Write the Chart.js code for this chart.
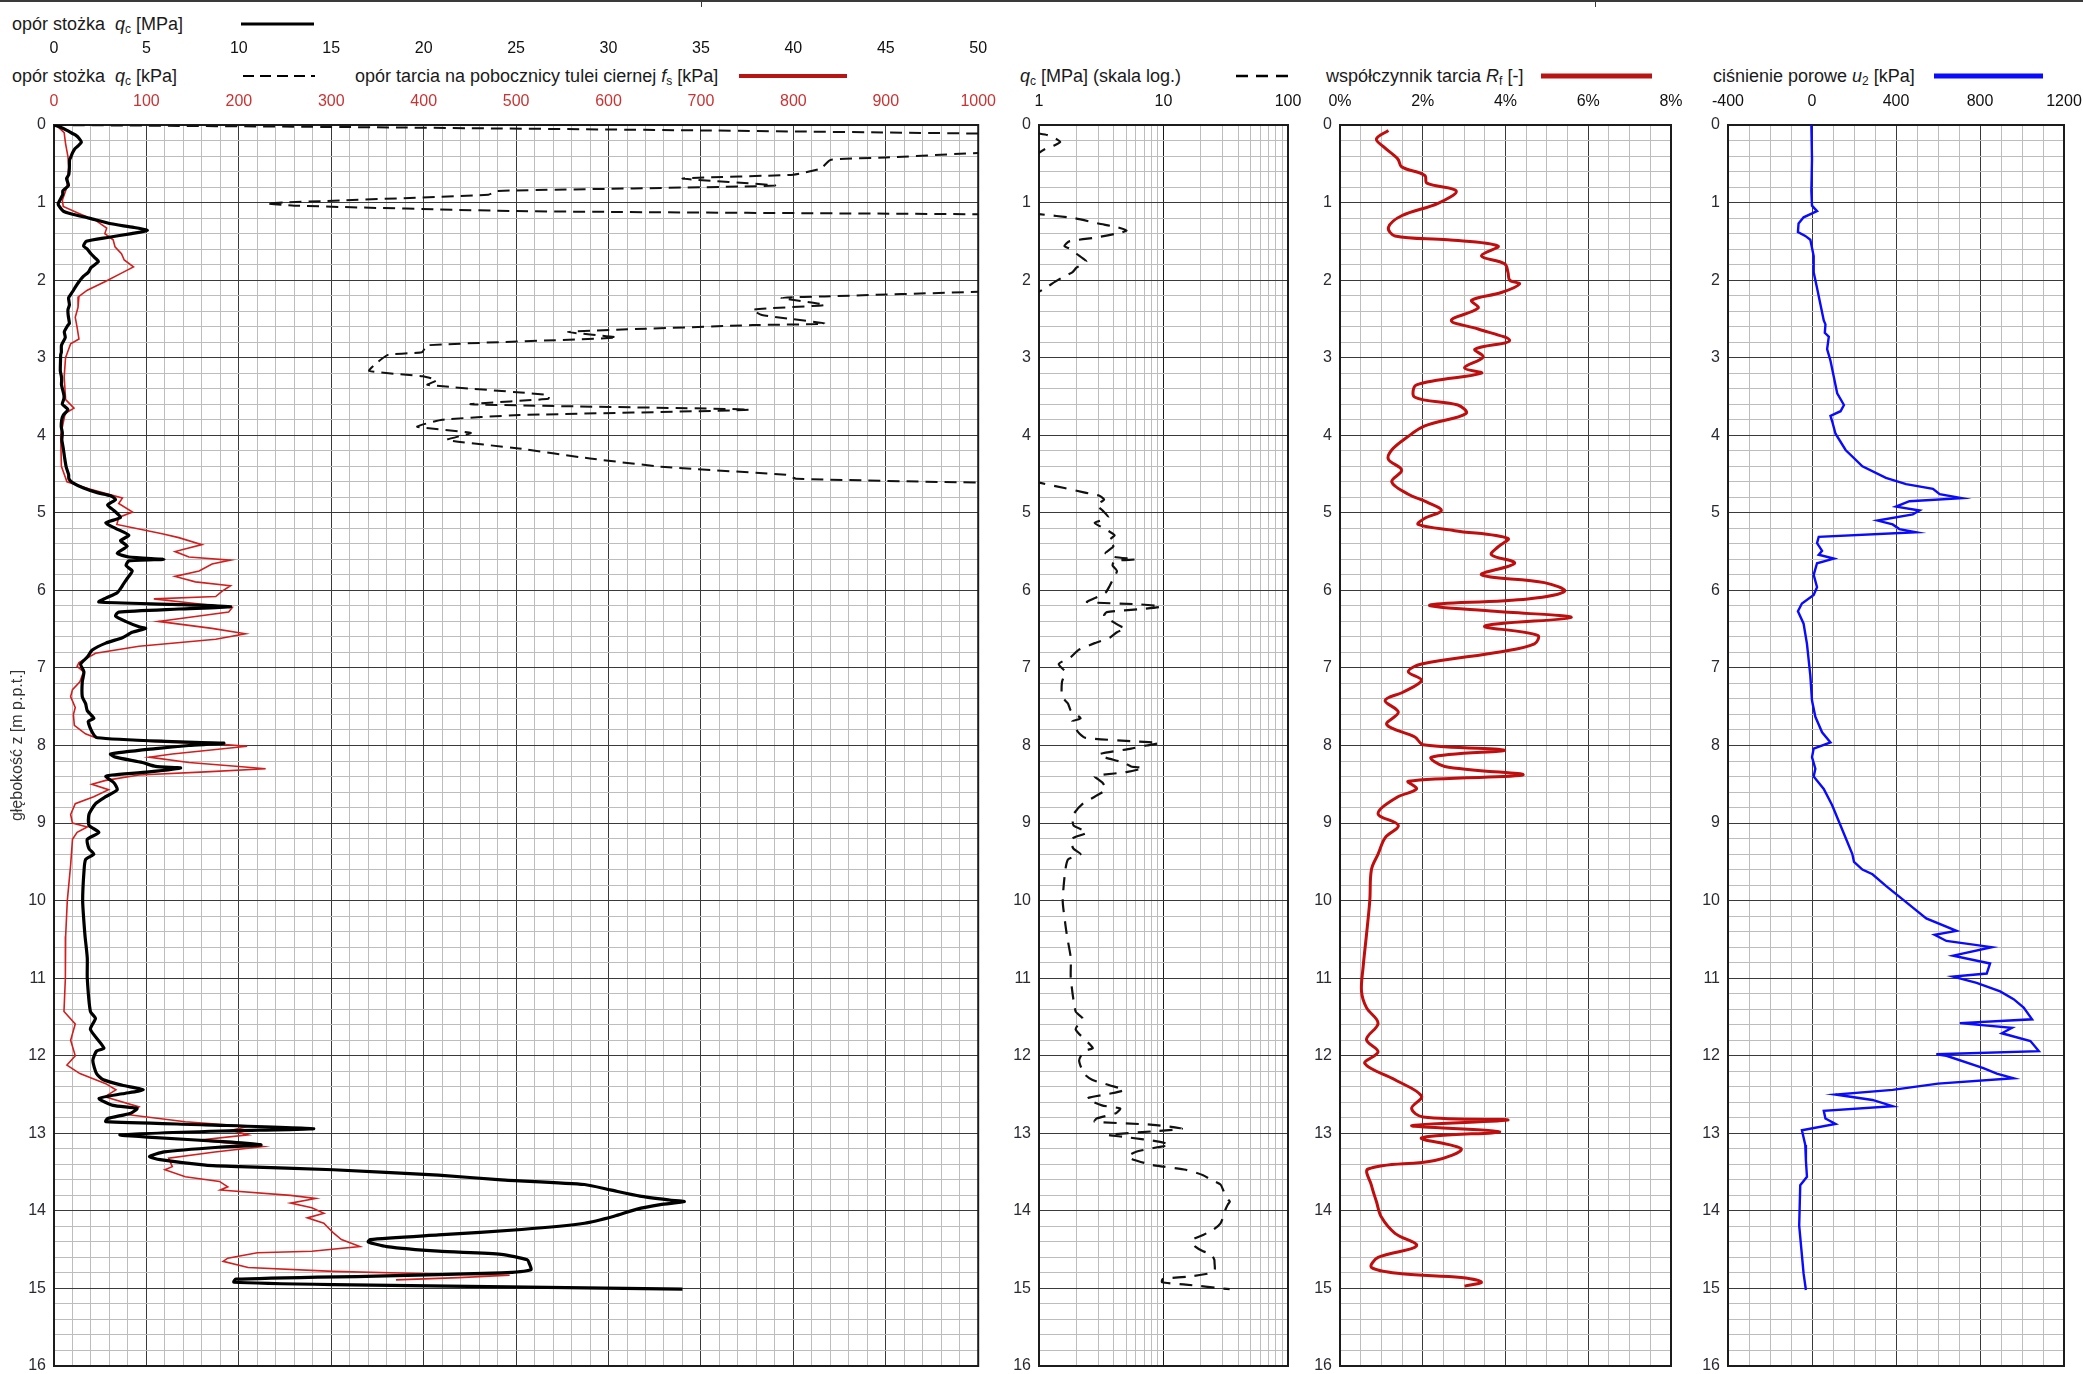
<!DOCTYPE html>
<html lang="pl">
<head>
<meta charset="utf-8">
<title>Sondowanie statyczne CPTU</title>
<script src="https://cdn.jsdelivr.net/npm/chart.js@4.4.1/dist/chart.umd.min.js"></script>
<style>
  html, body { margin: 0; padding: 0; background: #fff; }
  body { position: relative; width: 2083px; height: 1374px; overflow: hidden;
         font-family: 'Liberation Sans', Arial, sans-serif; color: #1a1a1a; }
  canvas { position: absolute; top: 0; }
  .leg { position: absolute; font-size: 18px; line-height: 20px; white-space: nowrap; }
  .leg sub { font-size: 12px; vertical-align: -3px; line-height: 0; }
  .smp { position: absolute; overflow: visible; }
  .rule { position: absolute; background: #3a3a3a; }
</style>
</head>
<body>
<div class="rule" style="left:0;top:0;width:2083px;height:2px"></div>
<div class="rule" style="left:701px;top:0;width:1px;height:7px"></div>
<div class="rule" style="left:1595px;top:0;width:1px;height:7px"></div>

<!-- legend rows above the panels -->
<div class="leg" style="left:12px;top:14px">opór stożka&nbsp; <i>q</i><sub>c</sub> [MPa]</div>
<svg class="smp" style="left:241px;top:18px" width="76" height="12"><line x1="0" y1="6" x2="73" y2="6" stroke="#000" stroke-width="3"/></svg>

<div class="leg" style="left:12px;top:66px">opór stożka&nbsp; <i>q</i><sub>c</sub> [kPa]</div>
<svg class="smp" style="left:243px;top:70px" width="76" height="12"><line x1="0" y1="6" x2="72" y2="6" stroke="#000" stroke-width="2" stroke-dasharray="11 6"/></svg>
<div class="leg" style="left:355px;top:66px">opór tarcia na pobocznicy tulei ciernej <i>f</i><sub>s</sub> [kPa]</div>
<svg class="smp" style="left:739px;top:70px" width="110" height="12"><line x1="0" y1="6" x2="108" y2="6" stroke="#b81414" stroke-width="4"/></svg>

<div class="leg" style="left:1020px;top:66px"><i>q</i><sub>c</sub> [MPa] (skala log.)</div>
<svg class="smp" style="left:1236px;top:70px" width="62" height="12"><line x1="0" y1="6" x2="54" y2="6" stroke="#000" stroke-width="2.5" stroke-dasharray="12 8"/></svg>

<div class="leg" style="left:1326px;top:66px">współczynnik tarcia <i>R</i><sub>f</sub> [-]</div>
<svg class="smp" style="left:1541px;top:70px" width="112" height="12"><line x1="0" y1="6" x2="111" y2="6" stroke="#b81414" stroke-width="5"/></svg>

<div class="leg" style="left:1713px;top:66px">ciśnienie porowe <i>u</i><sub>2</sub> [kPa]</div>
<svg class="smp" style="left:1934px;top:70px" width="112" height="12"><line x1="0" y1="6" x2="109" y2="6" stroke="#0a0aff" stroke-width="5"/></svg>

<canvas id="cQc" width="1010" height="1390" style="left:0"></canvas>
<canvas id="cLog" width="320" height="1390" style="left:1000px"></canvas>
<canvas id="cRf" width="400" height="1390" style="left:1300px"></canvas>
<canvas id="cU2" width="410" height="1390" style="left:1690px"></canvas>

<script>
// ---- cone resistance q_c [MPa] ----
const qcDepth = [0.00,0.03,0.07,0.11,0.13,0.17,0.22,0.27,0.31,0.36,0.42,0.45,0.56,0.64,0.69,0.78,0.85,0.90,1.01,1.04,
  1.11,1.15,1.20,1.27,1.32,1.36,1.40,1.45,1.50,1.56,1.60,1.66,1.72,1.76,1.84,1.90,1.95,2.02,2.08,2.15,
  2.21,2.23,2.32,2.38,2.45,2.56,2.58,2.64,2.67,2.74,2.84,2.93,2.96,3.05,3.17,3.24,3.29,3.35,3.48,3.53,
  3.60,3.67,3.74,3.80,3.89,3.97,4.06,4.17,4.30,4.41,4.51,4.56,4.61,4.68,4.74,4.78,4.83,4.90,4.97,5.06,
  5.13,5.20,5.29,5.36,5.43,5.52,5.57,5.60,5.62,5.68,5.75,5.85,5.94,6.03,6.10,6.15,6.18,6.21,6.24,6.28,
  6.33,6.40,6.47,6.49,6.54,6.61,6.68,6.77,6.86,6.95,7.05,7.18,7.37,7.46,7.55,7.65,7.69,7.83,7.90,7.95,
  7.97,8.00,8.04,8.11,8.15,8.22,8.27,8.29,8.34,8.38,8.40,8.48,8.57,8.66,8.75,8.89,9.03,9.12,9.21,9.33,
  9.40,9.47,9.63,10.00,10.28,10.46,10.74,11.00,11.43,11.52,11.66,11.90,11.94,12.06,12.23,12.31,12.38,12.44,12.49,12.55,
  12.64,12.68,12.74,12.81,12.85,12.89,12.94,12.97,13.02,13.05,13.11,13.15,13.18,13.24,13.30,13.34,13.41,13.43,13.47,13.54,
  13.60,13.66,13.73,13.81,13.86,13.88,13.92,13.98,14.07,14.16,14.24,14.31,14.37,14.40,14.46,14.52,14.56,14.63,14.67,14.76,
  14.80,14.84,14.88,14.92,14.95,15.01];
const qcMPa = [0.00,0.35,0.70,1.00,1.17,1.35,1.48,1.30,1.12,1.00,0.90,0.84,0.83,0.80,0.68,0.78,0.48,0.47,0.23,0.26,
  0.50,1.00,1.90,3.00,4.30,5.05,4.20,2.90,1.75,1.60,1.80,2.00,2.25,2.40,2.00,1.85,1.60,1.35,1.18,1.00,
  0.834,0.787,0.834,0.756,0.766,0.834,0.756,0.609,0.556,0.609,0.404,0.398,0.362,0.351,0.341,0.399,0.414,0.404,0.535,0.535,
  0.451,0.753,0.504,0.420,0.393,0.451,0.425,0.503,0.580,0.661,0.792,0.803,1.00,1.60,2.34,3.06,3.33,2.90,3.24,3.60,
  2.80,3.33,4.05,3.60,3.96,3.42,4.05,5.95,4.05,3.90,4.23,3.95,3.70,3.42,2.80,2.43,6.40,9.55,6.76,3.50,
  3.33,3.87,4.60,4.96,4.23,3.70,2.80,2.07,1.80,1.44,1.62,1.53,1.53,1.71,1.80,2.16,1.85,2.07,2.34,6.40,
  9.19,7.30,5.50,3.06,3.33,4.78,5.50,6.85,5.14,3.15,2.80,3.24,3.42,2.80,2.25,1.89,1.89,2.43,1.80,1.89,
  2.16,1.71,1.62,1.55,1.62,1.68,1.80,1.80,1.97,2.24,1.97,2.70,2.30,2.10,2.30,2.67,3.69,4.83,3.70,2.44,
  3.20,4.49,4.15,2.90,2.80,8.20,14.05,9.00,3.58,5.06,9.39,11.20,8.90,5.97,5.17,5.74,8.20,10.07,15.10,20.80,
  24.20,28.70,30.10,31.70,33.30,34.10,32.80,31.50,30.30,28.70,25.30,20.80,17.10,17.00,18.00,20.80,24.20,25.60,25.70,25.80,
  24.20,17.40,9.84,9.73,15.10,34.00];

// ---- sleeve friction f_s [kPa] ----
const fsDepth = [0.00,0.10,0.24,0.40,0.54,0.80,0.97,1.05,1.14,1.23,1.33,1.40,1.48,1.57,1.66,1.74,1.83,1.91,2.02,2.13,
  2.21,2.35,2.48,2.61,2.76,2.82,3.00,3.25,3.54,3.65,3.72,4.00,4.40,4.60,4.69,4.81,4.88,4.99,5.06,5.15,
  5.27,5.32,5.41,5.50,5.57,5.61,5.66,5.75,5.82,5.89,5.94,6.01,6.08,6.11,6.17,6.22,6.28,6.33,6.40,6.49,
  6.56,6.63,6.72,6.81,6.93,6.98,7.05,7.18,7.28,7.37,7.51,7.60,7.74,7.85,7.90,7.95,7.98,8.01,8.11,8.15,
  8.22,8.27,8.30,8.34,8.38,8.45,8.50,8.57,8.66,8.75,8.89,9.00,9.05,9.12,9.21,9.54,10.00,10.46,10.74,11.00,
  11.43,11.59,11.80,12.00,12.12,12.23,12.36,12.44,12.53,12.66,12.76,12.85,12.91,12.96,13.02,13.09,13.17,13.24,13.32,13.43,
  13.47,13.56,13.62,13.69,13.73,13.80,13.84,13.90,13.96,14.03,14.09,14.16,14.22,14.28,14.37,14.46,14.52,14.54,14.61,14.65,
  14.73,14.78,14.81,14.83,14.86,14.89];
const fsKPa = [2,11,12.5,15,16,14,9,10,27,45,57,55,64,66,73,76,86,73,55,36,
  27,26,23,25,27,18,12.5,11,12.6,21.6,12,7.2,8,14,37.5,74,70,85,70,68,
  117,135,160,131,146,191,171,157,131,153,191,182,175,108,153,193,189,157,113,171,
  207,175,92,45,27,25,32,28,20,18,23,21,22,34,45,110,178,209,128,103,
  146,200,229,164,92,56,41,59,43,23,18,20,36,25,20,18,14.4,12.6,12,12.6,
  10.8,23,18,23,14,28,56,67,55,92,81,142,210,192,210,156,226,174,124,128,
  120,142,179,188,180,256,283,256,279,292,274,292,297,302,311,331,279,220,188,183,
  210,302,406,493,438,370];

// ---- friction ratio R_f [%] ----
const rfDepth = [0.07,0.18,0.28,0.44,0.54,0.65,0.75,0.85,1.01,1.17,1.32,1.43,1.48,1.56,1.69,1.79,1.90,2.00,2.05,2.16,
  2.26,2.36,2.52,2.63,2.78,2.89,2.99,3.13,3.20,3.35,3.51,3.61,3.72,3.88,4.03,4.19,4.31,4.45,4.60,4.76,
  4.86,4.97,5.07,5.15,5.23,5.33,5.44,5.54,5.65,5.80,5.90,6.01,6.11,6.19,6.27,6.35,6.46,6.58,6.69,6.79,
  6.95,7.05,7.16,7.31,7.42,7.57,7.73,7.89,7.99,8.06,8.15,8.27,8.38,8.46,8.56,8.67,8.88,9.03,9.19,9.40,
  9.60,10.00,10.44,10.85,11.17,11.38,11.58,11.79,11.95,12.10,12.31,12.52,12.68,12.79,12.83,12.90,12.98,13.06,13.20,13.35,
  13.46,13.67,13.88,14.08,14.29,14.45,14.60,14.73,14.81,14.86,14.92,14.97];
const rfPct = [1.17,0.88,1.05,1.40,1.49,2.05,2.10,2.81,2.37,1.49,1.17,1.33,2.60,3.82,3.42,3.98,4.06,4.10,4.34,3.90,
  3.18,3.34,2.69,3.34,4.10,3.26,3.46,3.01,3.42,1.85,1.81,2.85,3.05,2.05,1.61,1.25,1.17,1.49,1.25,1.65,
  2.09,2.45,2.05,1.89,2.77,4.06,3.82,3.66,4.22,3.42,4.94,5.43,4.54,2.17,3.74,5.59,3.50,4.78,4.70,3.90,
  1.97,1.65,1.97,1.53,1.09,1.41,1.13,1.81,2.01,3.98,2.21,2.53,4.42,1.65,1.85,1.37,0.92,1.41,1.09,0.92,
  0.76,0.72,0.64,0.56,0.52,0.64,0.92,0.64,0.92,0.60,1.33,1.97,1.73,2.01,4.06,1.73,3.86,1.97,2.93,2.29,
  0.68,0.76,0.88,1.00,1.33,1.85,0.92,0.76,1.49,2.93,3.42,3.01];

// ---- pore pressure u_2 [kPa] ----
const u2Depth = [0.00,0.44,0.85,1.04,1.11,1.19,1.27,1.38,1.43,1.48,1.69,1.90,2.10,2.31,2.52,2.57,2.68,2.73,2.89,3.04,
  3.25,3.46,3.61,3.69,3.75,3.82,3.98,4.19,4.40,4.55,4.63,4.69,4.76,4.81,4.85,4.92,4.97,5.02,5.10,5.15,
  5.21,5.25,5.31,5.39,5.49,5.54,5.59,5.65,5.80,5.96,6.06,6.17,6.27,6.43,6.69,7.10,7.42,7.63,7.83,7.96,
  8.04,8.15,8.30,8.40,8.56,8.77,8.98,9.19,9.40,9.50,9.60,9.66,9.81,10.02,10.23,10.39,10.44,10.52,10.60,10.71,
  10.81,10.94,10.98,11.06,11.17,11.27,11.38,11.53,11.58,11.64,11.71,11.81,11.94,11.98,12.00,12.16,12.23,12.29,12.36,12.44,
  12.50,12.57,12.65,12.71,12.81,12.88,12.96,13.15,13.35,13.56,13.67,14.19,14.81,15.02];
const u2KPa = [-3,0,-3,0,24,-40,-64,-67,-32,-8,8,8,24,40,56,64,61,80,72,88,
  104,120,152,136,88,96,112,160,240,352,448,576,608,712,464,400,512,480,312,384,
  416,496,32,24,48,32,104,24,8,24,8,-48,-67,-40,-24,-8,0,16,48,88,
  8,0,16,8,56,96,128,160,192,200,240,288,352,448,544,688,584,640,856,672,
  848,832,672,784,896,960,1008,1048,704,952,904,1040,1080,592,640,816,880,960,600,384,
  112,288,384,56,64,112,-48,-32,-29,-24,-56,-61,-40,-29];

// ---- axis tick values ----
const depthLabels = [0,1,2,3,4,5,6,7,8,9,10,11,12,13,14,15,16];
const qcMPaLabels = [0,5,10,15,20,25,30,35,40,45,50];
const kPaLabels = [0,100,200,300,400,500,600,700,800,900,1000];
const logLabels = [1,10,100];
const rfLabels = [0,2,4,6,8];
const u2Labels = [-400,0,400,800,1200];

const FONT = "'Liberation Sans', Arial, sans-serif";
Chart.defaults.font.family = FONT;
Chart.defaults.font.size = 16;
Chart.defaults.color = '#1a1a1a';

const MINOR = '#bdbdbd';
const MAJOR = '#3a3a3a';

function pts(depths, vals, k) {
  const f = k || 1;
  return depths.map((d, i) => ({ x: vals[i] * f, y: d }));
}
function steps(from, to, n) {          // n equal intervals between from and to
  const out = [];
  for (let i = 0; i <= n; i++) out.push(from + (to - from) * i / n);
  return out;
}
const near = (a, b) => Math.abs(a - b) < 1e-6;
const inList = (v, list) => list.some(t => near(t, v));

const frame = {
  id: 'frame',
  beforeDatasetsDraw(chart) {
    const { ctx, chartArea: a } = chart;
    ctx.save();
    ctx.strokeStyle = '#1c1c1c';
    ctx.lineWidth = 2;
    ctx.strokeRect(a.left, a.top, a.right - a.left, a.bottom - a.top);
    ctx.restore();
  }
};

function depthAxis(width, title) {
  const ticks = steps(0, 16, 80);
  return {
    type: 'linear', reverse: true, min: 0, max: 16,
    afterBuildTicks: s => { s.ticks = ticks.map(v => ({ value: v })); },
    afterFit: s => { s.width = width; },
    ticks: {
      autoSkip: false, padding: 8, color: '#2a2a33',
      callback: v => inList(v, depthLabels) ? String(Math.round(v)) : ''
    },
    grid: {
      drawTicks: false,
      color: c => inList(c.tick.value, depthLabels) ? MAJOR : MINOR,
      lineWidth: 1
    },
    border: { display: false },
    title: title ? { display: true, text: title, color: '#333', font: { size: 16 }, padding: { top: 8, bottom: 0 } } : { display: false }
  };
}

function topAxis(o) {
  return {
    type: o.type || 'linear', position: 'top', min: o.min, max: o.max, weight: o.weight || 0,
    afterBuildTicks: s => { s.ticks = o.ticks.map(v => ({ value: v })); },
    afterFit: s => { s.height = o.height; },
    ticks: {
      autoSkip: false, maxRotation: 0, minRotation: 0, padding: o.padding, color: o.color || '#111',
      callback: v => inList(v, o.labels) ? o.fmt(v) : ''
    },
    grid: o.grid ? {
      drawTicks: false,
      color: c => inList(c.tick.value, o.major) ? (o.majorColor || MAJOR) : MINOR,
      lineWidth: 1
    } : { display: false, drawTicks: false },
    border: { display: false }
  };
}

const common = {
  responsive: false,
  animation: false,
  events: [],
  plugins: { legend: { display: false }, tooltip: { enabled: false } }
};

function line(data, color, width, extra) {
  return Object.assign({
    data, showLine: true, pointRadius: 0, borderColor: color, backgroundColor: color,
    borderWidth: width, fill: false, tension: 0, clip: 0
  }, extra || {});
}

// Panel 1: q_c [MPa], q_c [kPa] and f_s [kPa]
new Chart(document.getElementById('cQc'), {
  type: 'scatter',
  data: {
    datasets: [
      line(pts(qcDepth, qcMPa), '#000', 3.2, { xAxisID: 'xMPa', yAxisID: 'y', tension: 0.2 }),
      line(pts(qcDepth, qcMPa, 1000), '#111', 2, { xAxisID: 'xkPa', yAxisID: 'y', borderDash: [12, 7], tension: 0.15 }),
      line(pts(fsDepth, fsKPa), '#d41e1e', 1.6, { xAxisID: 'xkPa', yAxisID: 'y' })
    ]
  },
  options: Object.assign({}, common, {
    layout: { padding: { left: 0, right: 28, top: 0, bottom: 24 } },
    scales: {
      xkPa: topAxis({ min: 0, max: 1000, ticks: steps(0, 1000, 50), labels: kPaLabels, major: kPaLabels,
                      fmt: v => String(Math.round(v)), height: 50, padding: 14, color: '#c83434', grid: true, weight: 0 }),
      xMPa: topAxis({ min: 0, max: 50, ticks: qcMPaLabels, labels: qcMPaLabels,
                      fmt: v => String(Math.round(v)), height: 75, padding: 17, color: '#111', grid: false, weight: 1 }),
      y: depthAxis(54, 'głębokość z [m p.p.t.]')
    }
  }),
  plugins: [frame]
});

// Panel 2: q_c on a logarithmic scale
const logTicks = [1,2,3,4,5,6,7,8,9,10,20,30,40,50,60,70,80,90,100];
new Chart(document.getElementById('cLog'), {
  type: 'scatter',
  data: {
    datasets: [
      line(pts(qcDepth, qcMPa), '#111', 2.2, { borderDash: [13, 9], tension: 0.2 })
    ]
  },
  options: Object.assign({}, common, {
    layout: { padding: { left: 0, right: 32, top: 0, bottom: 24 } },
    scales: {
      x: topAxis({ type: 'logarithmic', min: 1, max: 100, ticks: logTicks, labels: logLabels, major: [10],
                   majorColor: '#1a1a1a', fmt: v => String(Math.round(v)), height: 125, padding: 14, grid: true }),
      y: depthAxis(39)
    }
  }),
  plugins: [frame]
});

// Panel 3: friction ratio R_f
new Chart(document.getElementById('cRf'), {
  type: 'scatter',
  data: {
    datasets: [
      line(pts(rfDepth, rfPct), '#c00d0d', 3, { tension: 0.35 })
    ]
  },
  options: Object.assign({}, common, {
    layout: { padding: { left: 0, right: 29, top: 0, bottom: 24 } },
    scales: {
      x: topAxis({ min: 0, max: 8, ticks: steps(0, 8, 16), labels: rfLabels, major: rfLabels,
                   fmt: v => Math.round(v) + '%', height: 125, padding: 14, grid: true }),
      y: depthAxis(40)
    }
  }),
  plugins: [frame]
});

// Panel 4: pore pressure u_2
new Chart(document.getElementById('cU2'), {
  type: 'scatter',
  data: {
    datasets: [
      line(pts(u2Depth, u2KPa), '#0a0aff', 2.4)
    ]
  },
  options: Object.assign({}, common, {
    layout: { padding: { left: 0, right: 36, top: 0, bottom: 24 } },
    scales: {
      x: topAxis({ min: -400, max: 1200, ticks: steps(-400, 1200, 16), labels: u2Labels, major: u2Labels,
                   fmt: v => String(Math.round(v)), height: 125, padding: 14, grid: true }),
      y: depthAxis(38)
    }
  }),
  plugins: [frame]
});
</script>
</body>
</html>
